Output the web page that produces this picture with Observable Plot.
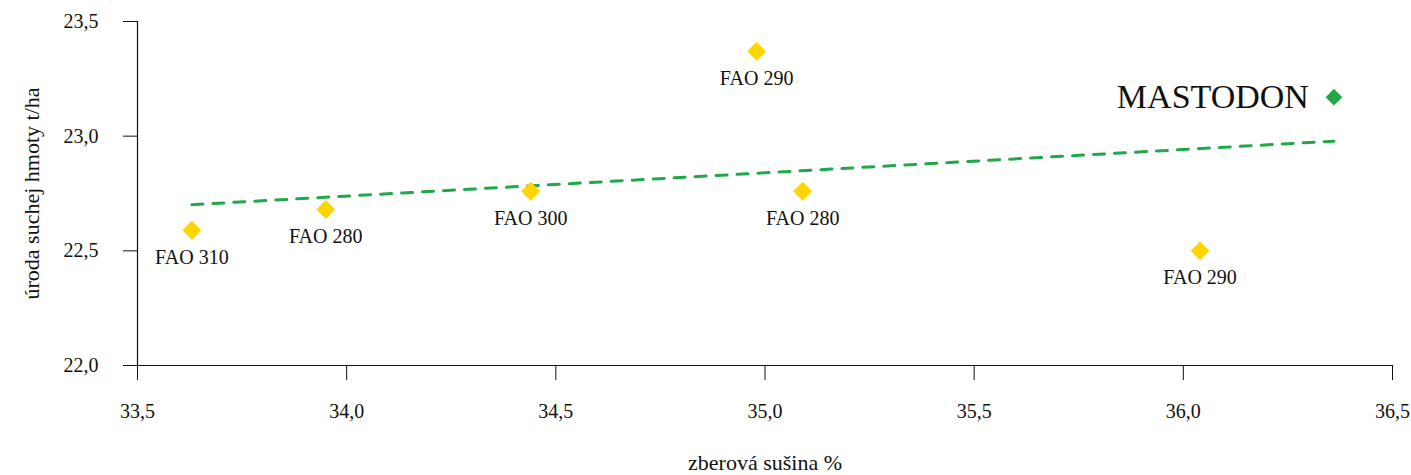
<!DOCTYPE html>
<html>
<head>
<meta charset="utf-8">
<script src="https://cdn.jsdelivr.net/npm/d3@7"></script>
<script src="https://cdn.jsdelivr.net/npm/@observablehq/plot@0.6"></script>
<style>
  html, body { margin: 0; padding: 0; background: #fff; }
  #chart { width: 1411px; height: 475px; }
</style>
</head>
<body>
<div id="chart"></div>
<script>
// Data
const hybrids   = ["FAO 310", "FAO 280", "FAO 300", "FAO 290", "FAO 280", "FAO 290", "MASTODON"];
const dryMatter = [33.63, 33.95, 34.44, 34.98, 35.09, 36.04, 36.36];   // zberová sušina %
const yieldDM   = [22.59, 22.68, 22.76, 23.37, 22.76, 22.50, 23.17];   // úroda suchej hmoty t/ha
const xTicks = [33.5, 34.0, 34.5, 35.0, 35.5, 36.0, 36.5];
const yTicks = [22.0, 22.5, 23.0, 23.5];

const data = hybrids.map((name, i) => ({name, x: dryMatter[i], y: yieldDM[i]}));
const highlight = "MASTODON";
const others = data.filter(d => d.name !== highlight);
const featured = data.filter(d => d.name === highlight);

const fmt = d => d.toFixed(1).replace(".", ",");
const YELLOW = "#FFD500";
const GREEN = "#20A84A";

const chart = Plot.plot({
  width: 1411,
  height: 475,
  marginTop: 21,
  marginLeft: 137,
  marginRight: 19,
  marginBottom: 110,
  style: {fontFamily: "'Liberation Serif', serif", fontSize: "20px", color: "#111", background: "#fff"},
  x: {domain: [33.5, 36.5]},
  y: {domain: [22, 23.5]},
  marks: [
    Plot.ruleX([33.5], {stroke: "#111", strokeWidth: 1.2}),
    Plot.ruleY([22], {stroke: "#111", strokeWidth: 1.2}),
    Plot.axisX({ticks: xTicks, tickFormat: fmt, tickSize: 15, tickPadding: 23, fontSize: 20,
      label: null}),
    Plot.axisX({ticks: [], tickSize: 0, fontSize: 22,
      label: "zberová sušina %", labelAnchor: "center", labelOffset: 104, labelArrow: "none"}),
    Plot.axisY({ticks: yTicks, tickFormat: fmt, tickSize: 14, tickPadding: 25, fontSize: 20,
      label: null}),
    Plot.axisY({ticks: [], tickSize: 0, fontSize: 22,
      label: "úroda suchej hmoty t/ha", labelAnchor: "center", labelOffset: 114, labelArrow: "none"}),
    Plot.linearRegressionY(data, {x: "x", y: "y", ci: 0, stroke: GREEN, strokeWidth: 3, strokeDasharray: "11,10"}),
    Plot.dot(others, {x: "x", y: "y", symbol: "diamond2", r: 8.5, fill: YELLOW, stroke: null}),
    Plot.dot(featured, {x: "x", y: "y", symbol: "diamond2", r: 7.5, fill: GREEN, stroke: null}),
    Plot.text(others, {x: "x", y: "y", text: "name", dy: 27, fontSize: 20, fill: "#111"}),
    Plot.text(featured, {x: "x", y: "y", text: "name", dx: -25, textAnchor: "end", fontSize: 34, fill: "#111"})
  ]
});
document.getElementById("chart").appendChild(chart);
</script>
</body>
</html>
